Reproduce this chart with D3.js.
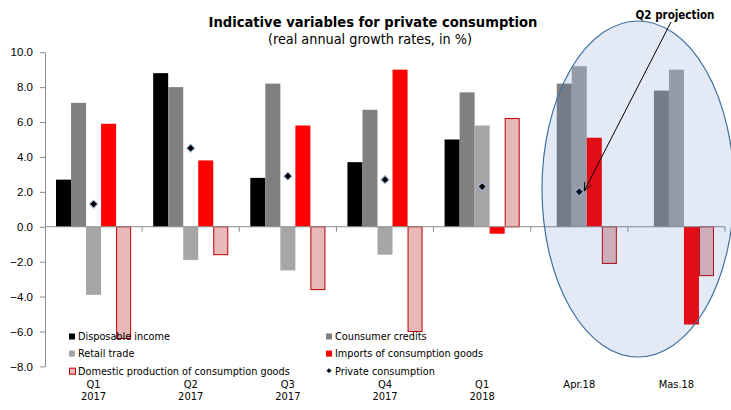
<!DOCTYPE html>
<html>
<head>
<meta charset="utf-8">
<script src="https://cdn.jsdelivr.net/npm/d3@7"></script>
<style>
  html, body { margin: 0; padding: 0; background: #fff; }
  svg { display: block; font-family: "DejaVu Sans Condensed", "DejaVu Sans", sans-serif; font-stretch: condensed; }
</style>
</head>
<body>
<svg id="chart" width="731" height="410"></svg>
<script>
// Categories (two-line labels) and series values, real annual growth rates in %
const categories = ["Q1 2017", "Q2 2017", "Q3 2017", "Q4 2017", "Q1 2018", "Apr.18", "Mas.18"];
const categoryLines = [["Q1", "2017"], ["Q2", "2017"], ["Q3", "2017"], ["Q4", "2017"], ["Q1", "2018"], ["Apr.18"], ["Mas.18"]];

const disposableIncome = [2.7, 8.8, 2.8, 3.7, 5.0, null, null];
const consumerCredits  = [7.1, 8.0, 8.2, 6.7, 7.7, 8.2, 7.8];
const retailTrade      = [-3.9, -1.9, -2.5, -1.6, 5.8, 9.2, 9.0];
const importsGoods     = [5.9, 3.8, 5.8, 9.0, -0.4, 5.1, -5.6];
const domesticProd     = [-6.4, -1.6, -3.6, -6.0, 6.2, -2.1, -2.8];
const privateCons      = [1.3, 4.5, 2.9, 2.7, 2.3, 2.0, null];

const yTicks = [10, 8, 6, 4, 2, 0, -2, -4, -6, -8];

const barSeries = [
  { name: "Disposable income", values: disposableIncome, fill: "#000000", stroke: "none" },
  { name: "Counsumer credits", values: consumerCredits, fill: "#808080", stroke: "none" },
  { name: "Retail trade", values: retailTrade, fill: "#a6a6a6", stroke: "none" },
  { name: "Imports of consumption goods", values: importsGoods, fill: "#ff0000", stroke: "none" },
  { name: "Domestic production of consumption goods", values: domesticProd, fill: "#e6b9b8", stroke: "#c00000" }
];

const svg = d3.select("#chart");

const x0 = d3.scaleBand().domain(categories).range([45, 725]).paddingInner(0).paddingOuter(0);
const x1 = d3.scaleBand().domain(barSeries.map(s => s.name)).range([0, x0.bandwidth()]).paddingInner(0).paddingOuter(0.733);
const y = d3.scaleLinear().domain([-8, 10]).range([366.4, 52.2]);

// Title
svg.append("text")
  .attr("x", 373).attr("y", 27)
  .attr("text-anchor", "middle")
  .attr("font-weight", "bold").attr("font-size", 14.6)
  .attr("fill", "#000")
  .text("Indicative variables for private consumption");
svg.append("text")
  .attr("x", 370).attr("y", 44)
  .attr("text-anchor", "middle")
  .attr("font-size", 14.3)
  .attr("fill", "#000")
  .text("(real annual growth rates, in %)");

// Bars
const groups = svg.append("g").selectAll("g")
  .data(barSeries).join("g")
  .attr("fill", d => d.fill)
  .attr("stroke", d => d.stroke)
  .attr("stroke-width", 1);

groups.selectAll("rect")
  .data(s => s.values.map((v, i) => ({ v, cat: categories[i], name: s.name, stroked: s.stroke !== "none" }))
    .filter(d => d.v !== null))
  .join("rect")
  .attr("x", d => x0(d.cat) + x1(d.name) + (d.stroked ? 0.5 : 0))
  .attr("width", d => x1.bandwidth() - (d.stroked ? 1 : 0))
  .attr("y", d => Math.min(y(d.v), y(0)))
  .attr("height", d => Math.abs(y(d.v) - y(0)));

// Y axis
const yAxis = svg.append("g")
  .attr("transform", "translate(45,0)")
  .call(d3.axisLeft(y).tickValues(yTicks).tickFormat(d3.format(".1f")).tickSize(5).tickSizeOuter(0));
yAxis.select(".domain").attr("stroke", "#8c8c8c");
yAxis.selectAll(".tick line").attr("stroke", "#8c8c8c");
yAxis.selectAll(".tick text")
  .attr("x", -12)
  .attr("font-size", 11.5)
  .attr("fill", "#000")
  .style("font-family", "inherit");

// Zero line with ticks at category boundaries
const boundaries = categories.map(c => x0(c) + x0.bandwidth());
const xAxis = svg.append("g").attr("transform", `translate(0,${y(0)})`);
xAxis.append("line")
  .attr("x1", 45).attr("x2", 725)
  .attr("stroke", "#8c8c8c");
xAxis.selectAll("line.tk").data(boundaries).join("line")
  .attr("class", "tk")
  .attr("x1", d => d).attr("x2", d => d)
  .attr("y1", 0).attr("y2", 5)
  .attr("stroke", "#8c8c8c");

// Private consumption markers
const diamond = d3.symbol().type(d3.symbolSquare).size(34);
svg.append("g").selectAll("path")
  .data(privateCons.map((v, i) => ({ v, cat: categories[i] })).filter(d => d.v !== null))
  .join("path")
  .attr("d", diamond)
  .attr("transform", d => `translate(${x0(d.cat) + x1("Retail trade") + x1.bandwidth() / 2},${y(d.v)}) rotate(45)`)
  .attr("fill", "#000")
  .attr("stroke", "#a9bfe0")
  .attr("stroke-width", 1);

// Category labels
const catLabels = svg.append("g").attr("font-size", 11).attr("fill", "#000").attr("text-anchor", "middle");
categories.forEach((c, i) => {
  categoryLines[i].forEach((line, j) => {
    catLabels.append("text")
      .attr("x", x0(c) + x0.bandwidth() / 2)
      .attr("y", 387.5 + j * 12.5)
      .text(line);
  });
});

// Legend
const legendItems = [
  { name: "Disposable income", kind: "sq", fill: "#000000", stroke: "none" },
  { name: "Counsumer credits", kind: "sq", fill: "#808080", stroke: "none" },
  { name: "Retail trade", kind: "sq", fill: "#a6a6a6", stroke: "none" },
  { name: "Imports of consumption goods", kind: "sq", fill: "#ff0000", stroke: "none" },
  { name: "Domestic production of consumption goods", kind: "sq", fill: "#e6b9b8", stroke: "#c00000" },
  { name: "Private consumption", kind: "dm", fill: "#000000", stroke: "#a9bfe0" }
];
const legend = svg.append("g").attr("font-size", 10.8).attr("fill", "#000");
legendItems.forEach((it, i) => {
  const col = i % 2, row = Math.floor(i / 2);
  const lx = col === 0 ? 69 : 326;
  const cy = 336.5 + row * 17.1;
  if (it.kind === "sq") {
    const stroked = it.stroke !== "none";
    legend.append("rect")
      .attr("x", lx + (stroked ? 0.5 : 0)).attr("y", cy - 3 + (stroked ? 0.5 : 0))
      .attr("width", 6).attr("height", 6)
      .attr("fill", it.fill).attr("stroke", it.stroke);
  } else {
    legend.append("path")
      .attr("d", d3.symbol().type(d3.symbolSquare).size(14))
      .attr("transform", `translate(${lx + 3},${cy}) rotate(45)`)
      .attr("fill", it.fill).attr("stroke", it.stroke).attr("stroke-width", 0.8);
  }
  legend.append("text")
    .attr("x", lx + 9).attr("y", cy + 3.8)
    .text(it.name);
});

// Projection highlight
svg.append("ellipse")
  .attr("cx", 638).attr("cy", 189)
  .attr("rx", 96).attr("ry", 168)
  .attr("fill", "#2e62b5").attr("fill-opacity", 0.134)
  .attr("stroke", "#41709f").attr("stroke-width", 1.2);

// Arrow to the projected value
const target = [x0("Apr.18") + x1("Retail trade") + x1.bandwidth() / 2 + 5, y(privateCons[5]) - 1];
const start = [671, 22];
svg.append("line")
  .attr("x1", start[0]).attr("y1", start[1])
  .attr("x2", target[0]).attr("y2", target[1])
  .attr("stroke", "#000").attr("stroke-width", 1);
const ang = Math.atan2(target[1] - start[1], target[0] - start[0]);
const headLen = 9, spread = 0.42;
const head = [
  [target[0] - headLen * Math.cos(ang - spread), target[1] - headLen * Math.sin(ang - spread)],
  target,
  [target[0] - headLen * Math.cos(ang + spread), target[1] - headLen * Math.sin(ang + spread)]
];
svg.append("path")
  .attr("d", d3.line()(head))
  .attr("fill", "none").attr("stroke", "#000").attr("stroke-width", 1);

svg.append("text")
  .attr("x", 675).attr("y", 19)
  .attr("text-anchor", "middle")
  .attr("font-weight", "bold").attr("font-size", 11.5)
  .attr("fill", "#000")
  .text("Q2 projection");
</script>
</body>
</html>
